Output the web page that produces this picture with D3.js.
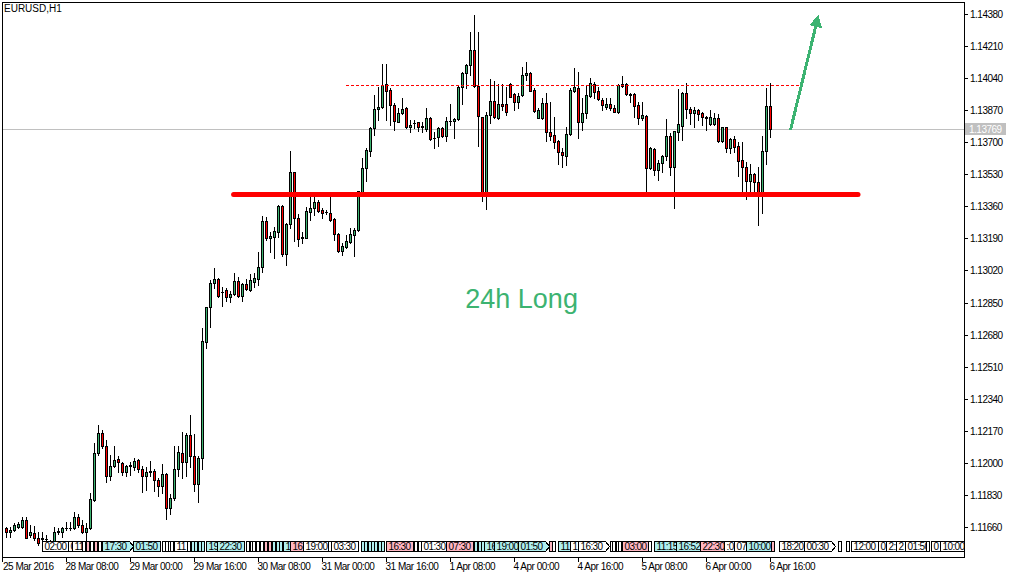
<!DOCTYPE html>
<html><head><meta charset="utf-8">
<script src="https://cdn.jsdelivr.net/npm/d3@7"></script>
<style>
html,body{margin:0;padding:0;background:#fff;}
svg{display:block;}
text{font-family:"Liberation Sans",Arial,sans-serif;}
</style></head><body>
<svg id="chart" width="1017" height="578"></svg>
<script>
const symbolTitle = "EURUSD,H1";
const startTime = "2016-03-25T17:00:00Z";

const open = [
1.11654,1.11636,1.11645,1.11662,1.11662,1.11698,1.11615,1.11627,1.11601,1.11601,
1.11596,1.11587,1.11560,1.11631,1.11633,1.11654,1.11656,1.11654,1.11712,1.11668,
1.11631,1.11654,1.11804,1.12052,1.12158,1.12090,1.11933,1.11981,1.12020,1.11999,
1.11954,1.11990,1.11977,1.12016,1.11967,1.11928,1.11958,1.11958,1.11910,1.11880,
1.11942,1.11763,1.11813,1.11967,1.12052,1.12007,1.12149,1.12037,1.11887,1.12027,
1.12643,1.12825,1.12953,1.12975,1.12906,1.12917,1.12882,1.12894,1.12965,1.12887,
1.12947,1.12917,1.12961,1.12974,1.13037,1.13283,1.13194,1.13199,1.13226,1.13362,
1.13108,1.13267,1.13541,1.13297,1.13191,1.13194,1.13332,1.13350,1.13385,1.13341,
1.13329,1.13324,1.13293,1.13212,1.13125,1.13146,1.13173,1.13208,1.13235,1.13438,
1.13563,1.13655,1.13774,1.13875,1.13885,1.14007,1.13977,1.13898,1.13809,1.13854,
1.13880,1.13783,1.13800,1.13806,1.13779,1.13769,1.13827,1.13724,1.13726,1.13774,
1.13735,1.13813,1.13813,1.13822,1.13991,1.14066,1.14110,1.14189,1.13998,1.13832,
1.13438,1.13843,1.13919,1.13830,1.13903,1.13903,1.14009,1.13956,1.13915,1.13951,
1.14055,1.14069,1.13977,1.13830,1.13830,1.13907,1.13753,1.13739,1.13707,1.13650,
1.13629,1.13742,1.13973,1.13986,1.13809,1.13854,1.13947,1.14009,1.13972,1.13924,
1.13885,1.13903,1.13883,1.13859,1.14007,1.14007,1.13954,1.13954,1.13898,1.13827,
1.13841,1.13566,1.13664,1.13553,1.13589,1.13627,1.13733,1.13567,1.13756,1.13788,
1.13960,1.13875,1.13854,1.13871,1.13854,1.13832,1.13797,1.13797,1.13827,1.13708,
1.13779,1.13668,1.13716,1.13680,1.13606,1.13571,1.13492,1.13532,1.13488,1.13430,
1.13654,1.13892];
const high = [
1.11659,1.11662,1.11680,1.11684,1.11712,1.11712,1.11671,1.11666,1.11636,1.11633,
1.11618,1.11592,1.11662,1.11654,1.11662,1.11684,1.11686,1.11737,1.11730,1.11698,
1.11680,1.11840,1.12105,1.12202,1.12175,1.12122,1.12043,1.12087,1.12034,1.12007,
1.11990,1.12007,1.12025,1.12019,1.11981,1.11977,1.12011,1.11967,1.11919,1.11995,
1.11946,1.11836,1.12090,1.12090,1.12163,1.12161,1.12255,1.12154,1.12034,1.12716,
1.12829,1.12970,1.13034,1.12981,1.12935,1.12925,1.12912,1.13006,1.12983,1.12956,
1.12974,1.13002,1.13006,1.13117,1.13309,1.13306,1.13226,1.13252,1.13367,1.13367,
1.13270,1.13654,1.13544,1.13318,1.13226,1.13358,1.13420,1.13438,1.13394,1.13353,
1.13341,1.13411,1.13300,1.13218,1.13165,1.13208,1.13244,1.13244,1.13444,1.13616,
1.13668,1.13779,1.13951,1.13995,1.14113,1.14113,1.13986,1.13907,1.13880,1.13933,
1.13885,1.13818,1.13818,1.13809,1.13809,1.13880,1.13832,1.13756,1.13783,1.13779,
1.13832,1.13903,1.13827,1.13998,1.14071,1.14113,1.14283,1.14375,1.14286,1.13835,
1.13863,1.14035,1.14025,1.14009,1.14009,1.13995,1.14013,1.13963,1.13960,1.14101,
1.14124,1.14074,1.13986,1.13880,1.13936,1.13960,1.13915,1.13836,1.13712,1.13668,
1.13783,1.13986,1.14092,1.14074,1.13933,1.14004,1.14039,1.14021,1.13995,1.13936,
1.13936,1.13933,1.13898,1.14007,1.14053,1.14013,1.13960,1.13960,1.13915,1.13912,
1.13845,1.13677,1.13668,1.13606,1.13633,1.13823,1.13748,1.13762,1.13982,1.13965,
1.14013,1.13889,1.13889,1.13875,1.13862,1.13841,1.13871,1.13854,1.13850,1.13783,
1.13783,1.13724,1.13733,1.13703,1.13703,1.13597,1.13583,1.13539,1.13567,1.13733,
1.13989,1.14013];
const low = [
1.11606,1.11609,1.11641,1.11654,1.11654,1.11601,1.11606,1.11592,1.11565,1.11584,
1.11565,1.11544,1.11544,1.11624,1.11609,1.11645,1.11645,1.11649,1.11662,1.11627,
1.11592,1.11650,1.11800,1.12043,1.12078,1.11896,1.11910,1.11977,1.11954,1.11937,
1.11933,1.11937,1.11963,1.11949,1.11843,1.11857,1.11928,1.11853,1.11825,1.11840,
1.11702,1.11728,1.11804,1.11928,1.11922,1.11928,1.11977,1.11853,1.11795,1.11967,
1.12608,1.12719,1.12926,1.12882,1.12834,1.12860,1.12855,1.12891,1.12882,1.12860,
1.12917,1.12912,1.12935,1.12942,1.13014,1.13182,1.13120,1.13085,1.13199,1.13097,
1.13049,1.13244,1.13178,1.13150,1.13165,1.13191,1.13288,1.13314,1.13332,1.13297,
1.13320,1.13284,1.13182,1.13120,1.13102,1.13138,1.13168,1.13097,1.13230,1.13430,
1.13495,1.13629,1.13739,1.13818,1.13880,1.13818,1.13792,1.13765,1.13806,1.13850,
1.13777,1.13756,1.13774,1.13761,1.13756,1.13761,1.13712,1.13668,1.13680,1.13730,
1.13707,1.13792,1.13724,1.13818,1.13901,1.13986,1.14057,1.13991,1.13680,1.13390,
1.13345,1.13804,1.13827,1.13822,1.13871,1.13845,1.13938,1.13871,1.13883,1.13945,
1.14030,1.13970,1.13862,1.13827,1.13823,1.13708,1.13712,1.13668,1.13583,1.13571,
1.13580,1.13739,1.13968,1.13724,1.13765,1.13827,1.13942,1.13933,1.13924,1.13871,
1.13876,1.13871,1.13859,1.13854,1.13995,1.13951,1.13912,1.13836,1.13797,1.13818,
1.13438,1.13557,1.13527,1.13500,1.13544,1.13606,1.13527,1.13353,1.13712,1.13712,
1.13830,1.13797,1.13783,1.13818,1.13792,1.13765,1.13792,1.13792,1.13703,1.13703,
1.13647,1.13642,1.13650,1.13521,1.13443,1.13399,1.13443,1.13438,1.13262,1.13324,
1.13585,1.13730];
const close = [
1.11636,1.11645,1.11671,1.11675,1.11698,1.11604,1.11633,1.11601,1.11575,1.11599,
1.11594,1.11560,1.11636,1.11640,1.11657,1.11655,1.11656,1.11712,1.11668,1.11633,
1.11654,1.11808,1.12052,1.12158,1.12090,1.11933,1.11981,1.12016,1.12002,1.11954,
1.11981,1.11986,1.12011,1.11967,1.11933,1.11952,1.11949,1.11910,1.11878,1.11942,
1.11763,1.11813,1.11967,1.12057,1.12007,1.12149,1.12034,1.11889,1.12027,1.12645,
1.12825,1.12953,1.12975,1.12887,1.12904,1.12882,1.12896,1.12965,1.12887,1.12949,
1.12921,1.12970,1.12981,1.13037,1.13283,1.13194,1.13203,1.13230,1.13362,1.13108,
1.13267,1.13541,1.13297,1.13186,1.13199,1.13336,1.13350,1.13385,1.13337,1.13324,
1.13328,1.13288,1.13212,1.13125,1.13150,1.13177,1.13214,1.13235,1.13442,1.13563,
1.13659,1.13774,1.13875,1.13889,1.14004,1.13972,1.13898,1.13813,1.13854,1.13875,
1.13783,1.13792,1.13801,1.13779,1.13788,1.13827,1.13716,1.13723,1.13777,1.13735,
1.13813,1.13815,1.13822,1.13995,1.14069,1.14110,1.14189,1.13998,1.13841,1.13438,
1.13843,1.13919,1.13832,1.13903,1.13892,1.13862,1.13942,1.13915,1.13945,1.14057,
1.14066,1.13973,1.13867,1.13871,1.13907,1.13753,1.13735,1.13703,1.13647,1.13633,
1.13742,1.13977,1.13991,1.13809,1.13854,1.13951,1.14013,1.13968,1.13928,1.13898,
1.13903,1.13880,1.13862,1.14004,1.14000,1.13954,1.13953,1.13894,1.13827,1.13845,
1.13566,1.13668,1.13553,1.13589,1.13627,1.13733,1.13567,1.13760,1.13797,1.13960,
1.13875,1.13854,1.13871,1.13848,1.13832,1.13831,1.13832,1.13827,1.13708,1.13779,
1.13668,1.13717,1.13677,1.13603,1.13571,1.13492,1.13532,1.13488,1.13430,1.13654,
1.13892,1.13769];

const priceTicks = [1.11660,1.11830,1.12000,1.12170,1.12340,1.12510,1.12680,1.12850,1.13020,
  1.13190,1.13360,1.13530,1.13700,1.13870,1.14040,1.14210,1.14380];
const firstDateLabel = "25 Mar 2016";
const timeTickLabels = ["28 Mar 08:00","29 Mar 00:00","29 Mar 16:00","30 Mar 08:00","31 Mar 00:00",
  "31 Mar 16:00","1 Apr 08:00","4 Apr 00:00","4 Apr 16:00","5 Apr 08:00","6 Apr 00:00","6 Apr 16:00"];
const lastPrice = 1.13769;

// annotations (bar position, price)
const supportLevel = {from: 56.9, to: 213, price: 1.13423};
const resistanceLevel = {from: 85, to: 198.3, price: 1.14006};
const arrowFrom = [196, 1.13765];
const arrowTo = [203, 1.14375];
const forecastLabel = {bar: 128.9, price: 1.12822, text: "24h Long"};

// calendar event markers along the bottom (bar position, label, kind)
const eventAt = [9.05,15.6,16.6,19.05,20.05,20.9,22.05,22.95,23.95,31.8,39,39.7,40.55,41.1,42.1,45.3,46.3,47.1,47.9,48.75,
  49.9,52.8,60.05,60.9,61.6,62.5,63.4,64.6,65.5,66.4,67.4,68.25,69.2,71.05,74.2,80.5,81.3,88.8,89.6,90.45,
  91.3,92.1,92.95,93.8,95.05,102.1,102.9,103.8,109.9,117.1,117.95,118.8,119.4,122.1,127.95,135.7,136.6,137.95,140.9,142.95,
  150.9,151.6,152.4,153.1,153.95,160.6,161.95,167.4,173.4,179.4,181.9,185.05,191.3,193.2,199.4,207.9,210.05,211.3,218.1,220.1,
  222.6,224.8,230.05,231.3,233.45];
const eventText = ["02:00","0","11","","","","","","17:30","01:50","","","","","11","","","","","",
  "19","22:30","","","","","","","","","","","1","16","19:00","","03:30","","","",
  "","","","","16:30","","","01:30","07:30","","","","16","19:00","01:50","","","11","1","16:30",
  "","","","","03:00","","11:15","16:52","22:30",":0","07","10:00","","18:20","00:30","","","12:00","0","2:",
  "2","01:50","","0","10:00"];
const eventKind = ["w","w","w","w","p","w","p","w","c","c","w","w","w","w","w","w","c","c","c","c",
  "c","c","w","w","w","w","w","p","p","c","c","c","c","p","w","w","w","c","c","c",
  "c","c","c","c","p","w","w","w","p","c","c","c","c","c","c","p","w","c","w","w",
  "w","w","w","w","p","w","c","c","p","w","w","c","p","w","w","w","w","w","w","w",
  "w","w","w","w","w"];

const BULL = "#3cb371", BEAR = "#ff0000", ACCENT = "#3cb371";
const kindFill = {w: "#ffffff", c: "#afeeee", p: "#ffb6c1"};

const svg = d3.select("#chart");
svg.append("rect").attr("width",1017).attr("height",578).attr("fill","#fff");

const PL = 2, PR = 964, PT = 2, PB = 557;
const x = d3.scaleLinear().domain([0, open.length - 1]).range([6, 6 + 4 * (open.length - 1)]);
const y = d3.scaleLinear().domain([1.11660, 1.14380]).range([527, 14]);
const yr = y.copy().interpolate(d3.interpolateRound);

// bar times: hourly, weekends skipped
const times = [];
{
  let t = new Date(startTime).getTime();
  while (times.length < open.length) {
    const d = new Date(t);
    const wd = d.getUTCDay();
    if (wd !== 0 && wd !== 6) times.push(d);
    t += 3600000;
  }
}
const fmt = d3.utcFormat("%-d %b %H:%M");
const tickIdx = timeTickLabels.map(l => times.findIndex(t => fmt(t) === l)).filter(i => i >= 0);

// current price line
const lpY = Math.round(y(lastPrice)) + 0.5;
svg.append("line").attr("x1", PL).attr("x2", PR).attr("y1", lpY).attr("y2", lpY)
  .attr("stroke", "#c0c0c0").attr("stroke-width", 1).attr("shape-rendering","crispEdges");

// candles
const cg = svg.append("g").attr("shape-rendering", "crispEdges");
open.forEach((o, i) => {
  const c = close[i];
  const cx = x(i) + 0.5;
  const yH = Math.round(y(high[i])), yL = Math.round(y(low[i]));
  cg.append("line").attr("x1", cx).attr("x2", cx).attr("y1", yH).attr("y2", yL + 1)
    .attr("stroke", "#000").attr("stroke-width", 1);
  const yt = Math.round(y(Math.max(o, c))), yb = Math.round(y(Math.min(o, c)));
  if (yb - yt < 1) {
    cg.append("line").attr("x1", cx - 1.5).attr("x2", cx + 1.5).attr("y1", yt + 0.5).attr("y2", yt + 0.5)
      .attr("stroke", "#000");
  } else {
    cg.append("rect").attr("x", cx - 1).attr("y", yt + 0.5).attr("width", 2).attr("height", yb - yt)
      .attr("fill", c >= o ? BULL : BEAR).attr("stroke", "#000").attr("stroke-width", 1);
  }
});

// resistance dashed line
const rY = Math.round(y(resistanceLevel.price)) + 0.5;
svg.append("line").attr("x1", x(resistanceLevel.from)).attr("x2", x(resistanceLevel.to))
  .attr("y1", rY).attr("y2", rY).attr("stroke", "#ff0000").attr("stroke-width", 1)
  .attr("stroke-dasharray", "3,2").attr("shape-rendering","crispEdges");

// support thick line
svg.append("line").attr("x1", x(supportLevel.from)).attr("x2", x(supportLevel.to))
  .attr("y1", y(supportLevel.price)).attr("y2", y(supportLevel.price))
  .attr("stroke", "#ff0000").attr("stroke-width", 5).attr("stroke-linecap", "round");

// forecast arrow
{
  const ax0 = x(arrowFrom[0]) + 0.5, ay0 = y(arrowFrom[1]);
  const ax1 = x(arrowTo[0]) + 0.5, ay1 = y(arrowTo[1]);
  const dx = ax1 - ax0, dy = ay1 - ay0, len = Math.hypot(dx, dy);
  const ux = dx / len, uy = dy / len;
  const headL = 12, headW = 6.5;
  const bx = ax1 - ux * headL, by = ay1 - uy * headL;
  const ag = svg.append("g").attr("shape-rendering", "crispEdges");
  ag.append("line").attr("x1", ax0).attr("y1", ay0).attr("x2", bx + ux).attr("y2", by + uy)
    .attr("stroke", ACCENT).attr("stroke-width", 3);
  ag.append("polygon").attr("points", [
    [ax1, ay1], [bx - uy * headW, by + ux * headW], [bx + uy * headW, by - ux * headW]
  ].map(p => p.join(",")).join(" ")).attr("fill", ACCENT);
}

// forecast label
svg.append("text").attr("x", x(forecastLabel.bar)).attr("y", y(forecastLabel.price))
  .attr("text-anchor", "middle").attr("font-size", 27).attr("fill", ACCENT)
  .text(forecastLabel.text);

// event strip
{
  const sg = svg.append("g");
  const defs = svg.append("defs");
  const top = 541.5, h = 10;
  eventAt.forEach((u, j) => {
    const x0 = Math.round(x(u)) + 0.5;
    const xn = j + 1 < eventAt.length ? Math.round(x(eventAt[j + 1])) + 0.5 : PR + 0.5;
    const avail = xn - x0;
    const label = eventText[j];
    const g = sg.append("g");
    let tw = 0;
    let t = null;
    if (label) {
      t = g.append("text").attr("x", x0 + 2).attr("y", 550).attr("font-size", 10)
        .attr("letter-spacing", "-0.6px").attr("fill", "#000").text(label);
      tw = t.node().getComputedTextLength();
    }
    const natural = label ? Math.ceil(tw) + 4 : 3;
    const fill = kindFill[eventKind[j]];
    let shape;
    if (label && natural + 4 <= avail) {
      const xr = x0 + natural;
      shape = g.insert("polygon", "text").attr("points",
        `${x0},${top} ${xr},${top} ${xr + 4},${top + h / 2} ${xr},${top + h} ${x0},${top + h}`);
    } else {
      const w = Math.max(2, Math.min(natural, avail));
      shape = g.insert("rect", "text").attr("x", x0).attr("y", top).attr("width", w).attr("height", h);
      if (t) {
        const id = "clip" + j;
        defs.append("clipPath").attr("id", id).append("rect")
          .attr("x", x0 + 0.5).attr("y", top).attr("width", Math.max(0, w - 1)).attr("height", h);
        t.attr("clip-path", `url(#${id})`);
      }
    }
    shape.attr("fill", fill).attr("stroke", "#000").attr("stroke-width", 1)
      .attr("shape-rendering", "crispEdges");
  });
}

// frame
svg.append("rect").attr("x", PL + 0.5).attr("y", PT + 0.5).attr("width", PR - PL).attr("height", PB - PT)
  .attr("fill", "none").attr("stroke", "#000").attr("shape-rendering", "crispEdges");

// right price axis
const yAxis = d3.axisRight(yr).tickValues(priceTicks).tickSize(4).tickPadding(2)
  .tickFormat(d3.format(".5f"));
const yg = svg.append("g").attr("transform", `translate(${PR},0)`).call(yAxis);
yg.select(".domain").remove();
yg.selectAll("text").attr("font-family", '"Liberation Sans",Arial,sans-serif')
  .attr("font-size", 10).attr("letter-spacing", "-0.5px").attr("fill", "#000");
yg.selectAll("line").attr("shape-rendering", "crispEdges");
yg.attr("font-size", null).attr("font-family", null);

// last price tag
{
  const ty = Math.round(y(lastPrice));
  svg.append("rect").attr("x", PR + 1).attr("y", ty - 6).attr("width", 41).attr("height", 12)
    .attr("fill", "#c0c0c0");
  svg.append("text").attr("x", PR + 5).attr("y", ty + 4).attr("font-size", 10)
    .attr("letter-spacing", "-0.5px").attr("fill", "#fff").text(d3.format(".5f")(lastPrice));
}

// bottom time axis
const xAxis = d3.axisBottom(x).tickValues(tickIdx).tickSize(5).tickPadding(1)
  .tickFormat(i => fmt(times[i]));
const xg = svg.append("g").attr("transform", `translate(0,${PB})`).call(xAxis);
xg.select(".domain").remove();
xg.selectAll("text").attr("text-anchor", "start").attr("x", -1)
  .attr("font-family", '"Liberation Sans",Arial,sans-serif').attr("font-size", 10)
  .attr("letter-spacing", "-0.5px").attr("fill", "#000");
xg.selectAll("line").attr("shape-rendering", "crispEdges");
xg.attr("font-size", null).attr("font-family", null);

// first date label at left edge
svg.append("line").attr("x1", PL + 0.5).attr("x2", PL + 0.5).attr("y1", PB).attr("y2", PB + 5)
  .attr("stroke", "#000").attr("shape-rendering", "crispEdges");
svg.append("text").attr("x", PL + 1).attr("y", 570).attr("font-size", 10)
  .attr("letter-spacing", "-0.5px").attr("fill", "#000").text(firstDateLabel);

// title
svg.append("text").attr("x", 4).attr("y", 12).attr("font-size", 10).attr("fill", "#000").text(symbolTitle);
</script>
</body></html>
